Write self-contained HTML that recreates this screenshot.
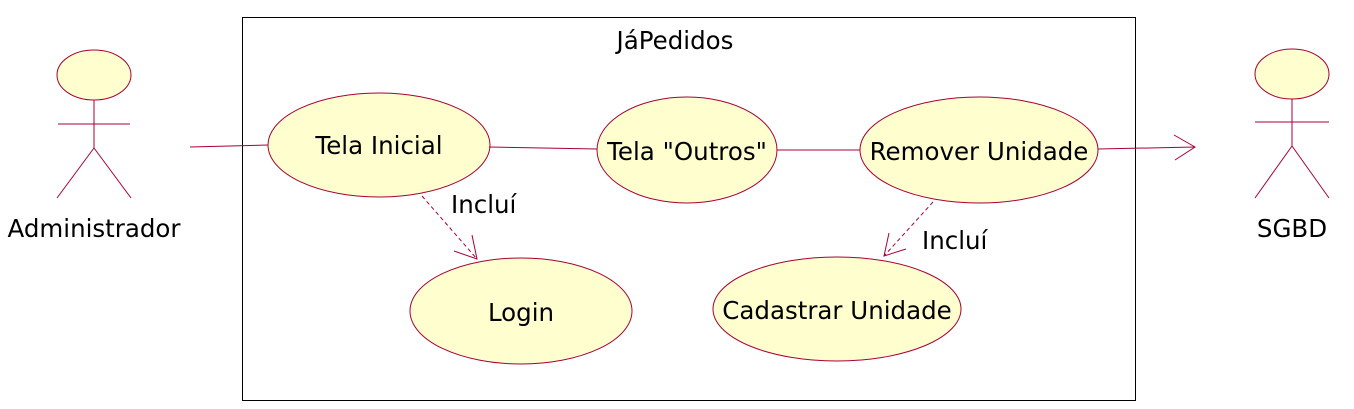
<!DOCTYPE html>
<html><head><meta charset="utf-8"><style>
html,body{margin:0;padding:0;background:#fff;width:1354px;height:409px;overflow:hidden}
text{font-family:"DejaVu Sans","Liberation Sans",sans-serif;fill:#000}
</style></head><body>
<svg width="1354" height="409" xmlns="http://www.w3.org/2000/svg">
<rect x="242.5" y="17.5" width="893" height="383" fill="#fff" stroke="#000" stroke-width="1"/>
<text x="675" y="49" font-size="24.5" text-anchor="middle">JáPedidos</text>
<g stroke="#A80036" stroke-width="1" fill="none">
<ellipse cx="94" cy="75" rx="37" ry="25" fill="#FEFECE"/>
<line x1="94" y1="100" x2="94" y2="148"/>
<line x1="58" y1="124" x2="130" y2="124"/>
<line x1="94" y1="148" x2="57" y2="198"/>
<line x1="94" y1="148" x2="131" y2="198"/>
<ellipse cx="1292" cy="74" rx="37" ry="25" fill="#FEFECE"/>
<line x1="1292" y1="99" x2="1292" y2="146"/>
<line x1="1255" y1="122" x2="1329" y2="122"/>
<line x1="1292" y1="146" x2="1255" y2="198"/>
<line x1="1292" y1="146" x2="1329" y2="198"/>
<ellipse cx="379" cy="145" rx="111" ry="52" fill="#FEFECE"/>
<ellipse cx="687" cy="150" rx="90" ry="53" fill="#FEFECE"/>
<ellipse cx="979" cy="150" rx="119" ry="53" fill="#FEFECE"/>
<ellipse cx="521" cy="311" rx="111" ry="53" fill="#FEFECE"/>
<ellipse cx="837" cy="309" rx="124" ry="52" fill="#FEFECE"/>
<line x1="190" y1="147" x2="268" y2="145"/>
<line x1="489" y1="147" x2="597" y2="149"/>
<line x1="777" y1="150" x2="860" y2="150"/>
<line x1="1098" y1="149" x2="1195" y2="147"/>
<polyline points="1174,135 1195,147 1175,160"/>
<line x1="422" y1="196" x2="477" y2="259" stroke-dasharray="4,3"/>
<polyline points="454,251 477,259 472,235"/>
<line x1="933" y1="202" x2="884" y2="256" stroke-dasharray="4,3"/>
<polyline points="889,233 884,256 906,249"/>
</g>
<g font-size="24.5" text-anchor="middle">
<text x="94" y="237">Administrador</text>
<text x="1292" y="237">SGBD</text>
<text x="379" y="154">Tela Inicial</text>
<text x="687" y="160">Tela "Outros"</text>
<text x="979" y="160">Remover Unidade</text>
<text x="521" y="321">Login</text>
<text x="837" y="319">Cadastrar Unidade</text>
</g>
<text x="451" y="213" font-size="24.5">Incluí</text>
<text x="922" y="249" font-size="24.5">Incluí</text>
</svg>
</body></html>
